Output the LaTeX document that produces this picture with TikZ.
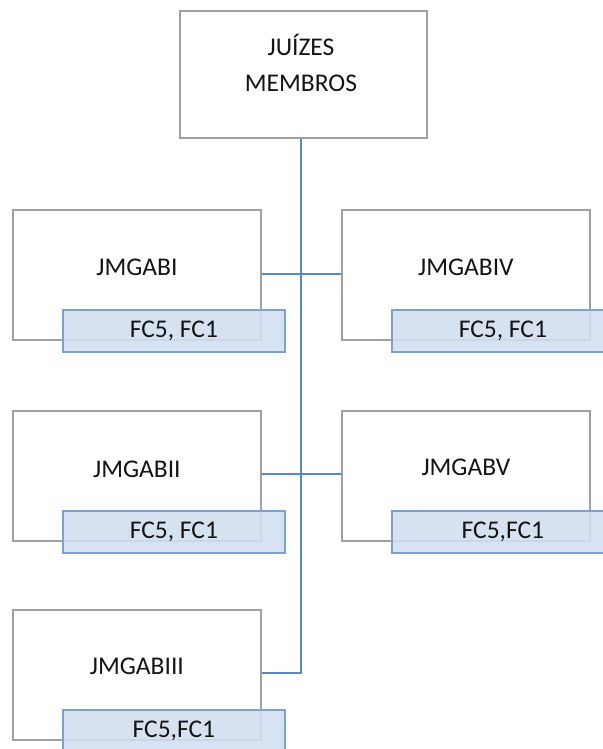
\documentclass[tikz,border=0pt]{standalone}
\usepackage{fontspec}
\setmainfont{Carlito}
\definecolor{boxgray}{RGB}{160,160,160}
\definecolor{linkblue}{RGB}{90,135,198}
\definecolor{tagfill}{RGB}{210,222,240}
\definecolor{tagdraw}{RGB}{125,162,210}
\definecolor{txt}{RGB}{20,20,20}
\begin{document}
\begin{tikzpicture}[x=1pt,y=-1pt,
  unit/.style={draw=boxgray,line width=1.8pt,fill=white,minimum width=248pt,minimum height=130pt,anchor=north west,inner sep=0pt},
  lbl/.style={font=\fontsize{25.5}{30}\selectfont,text=txt,inner sep=0pt},
  tag/.style={draw=tagdraw,line width=1.8pt,fill=tagfill,fill opacity=0.88,text opacity=1,minimum width=222pt,minimum height=42pt,anchor=north west,inner sep=0pt,font=\fontsize{25.5}{30}\selectfont,text=txt},
  link/.style={draw=linkblue,line width=1.8pt}]
\useasboundingbox (0,0) rectangle (602,749);
% top
\node[unit,minimum width=247pt,minimum height=127pt] (top) at (179,10) {};
\node[lbl] (topa) at (301,45) {JUÍZES};
\node[lbl] (topb) at (301,83) {MEMBROS};
% connectors
\coordinate (j1) at (301,274);
\coordinate (j2) at (301,474);
\coordinate (j3) at (301,673);
% units
\node[unit] (b1) at (12,209) {};
\node[unit] (b4) at (341,209) {};
\node[unit] (b2) at (12,410) {};
\node[unit] (b5) at (341,410) {};
\node[unit] (b3) at (12,609) {};
\draw[link] (j3 |- top.south) -- (j3) -- (b3.east |- j3);
\draw[link] (b1.east |- j1) -- (b4.west |- j1);
\draw[link] (b2.east |- j2) -- (b5.west |- j2);
\node[lbl] (l1) at ([yshift=8pt]b1.center) {JMGABI};
\node[lbl] (l4) at ([yshift=8pt]b4.center) {JMGABIV};
\node[lbl] (l2) at ([yshift=7pt]b2.center) {JMGABII};
\node[lbl] (l5) at ([yshift=9pt]b5.center) {JMGABV};
\node[lbl] (l3) at ([yshift=9pt]b3.center) {JMGABIII};
% tags
\node[tag] (t1) at (62,309) {FC5, FC1};
\node[tag] (t4) at (391,309) {FC5, FC1};
\node[tag] (t2) at (62,510) {FC5, FC1};
\node[tag] (t5) at (391,510) {FC5,FC1};
\node[tag] (t3) at (62,709) {FC5,FC1};
\end{tikzpicture}
\end{document}
